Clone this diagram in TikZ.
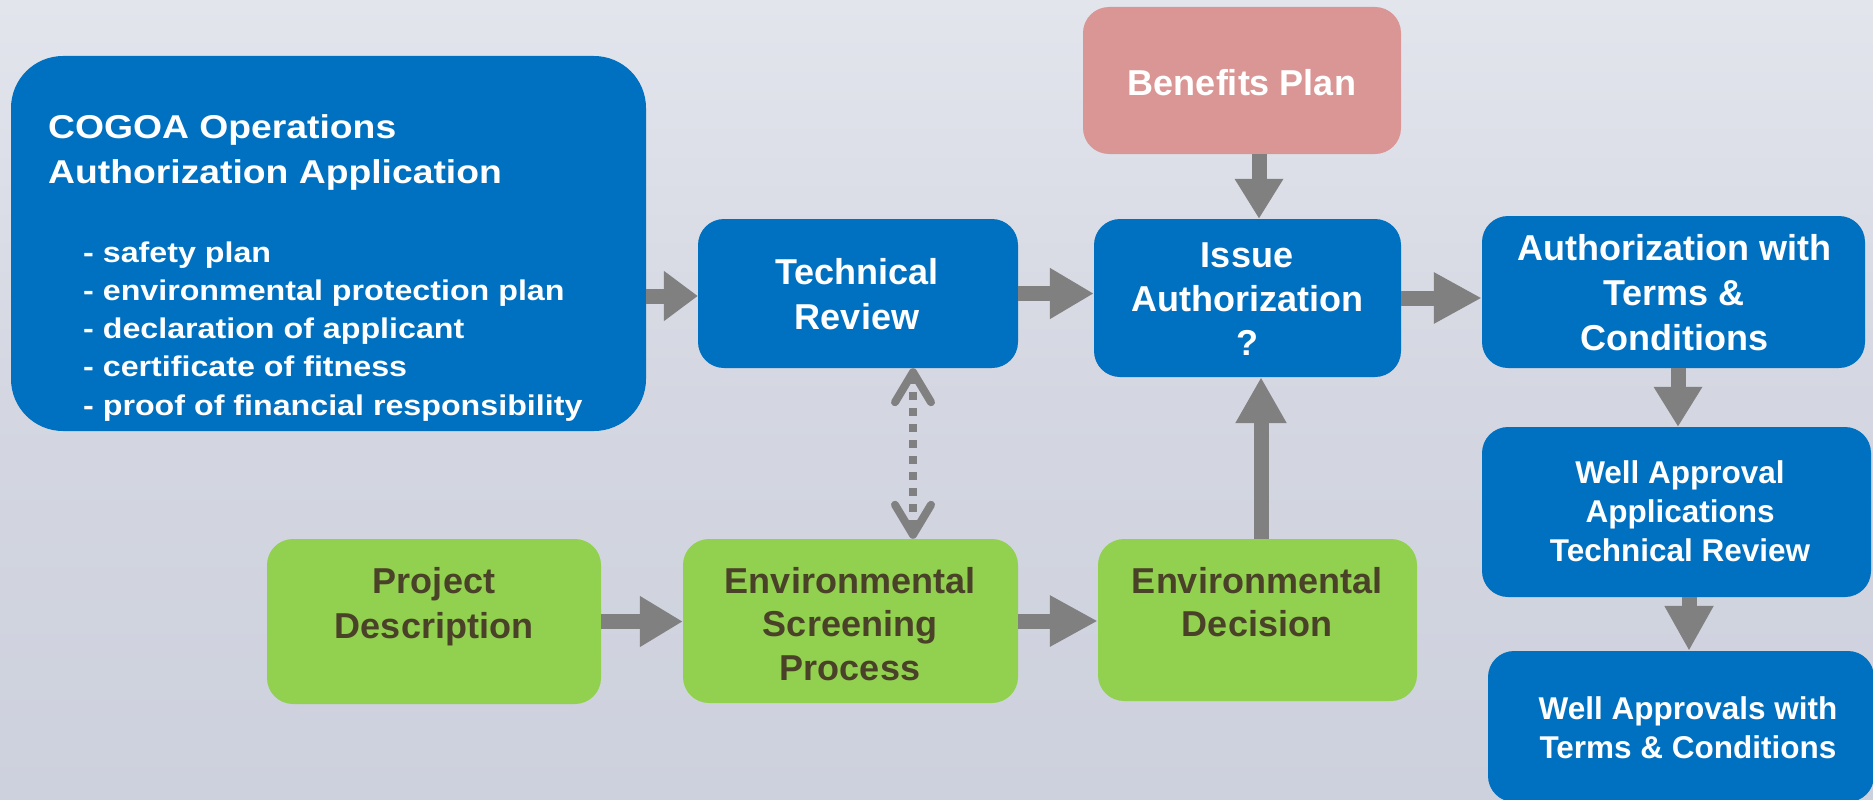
\documentclass[tikz,border=0pt]{standalone}
\usepackage{fontspec}
\setmainfont{Liberation Sans}
\newfontfamily\widefont{Liberation Sans}[FakeStretch=1.13]
\usetikzlibrary{arrows.meta}
\definecolor{boxblue}{HTML}{0070C0}
\definecolor{boxgreen}{HTML}{92D050}
\definecolor{boxpink}{HTML}{DA9694}
\definecolor{arrowgray}{HTML}{808080}
\definecolor{darktext}{HTML}{4A4129}
\definecolor{bgtop}{HTML}{E2E5EC}
\definecolor{bgmid}{HTML}{D4D7E1}
\definecolor{bgbot}{HTML}{CDD1DD}
\begin{document}
\begin{tikzpicture}[x=1pt,y=-1pt,
  box/.style={rectangle, rounded corners=26pt, inner sep=0pt, draw=none},
  bluebox/.style={box, fill=boxblue},
  greenbox/.style={box, fill=boxgreen},
  pinkbox/.style={box, fill=boxpink},
  bigtxt/.style={inner sep=0pt, anchor=base, font=\fontsize{36}{45}\selectfont\bfseries},
  smalltxt/.style={inner sep=0pt, anchor=base, font=\fontsize{31.5}{39}\selectfont\bfseries},
  titletxt/.style={inner sep=0pt, anchor=base west, text=white, font=\widefont\fontsize{33}{45}\selectfont\bfseries},
  listtxt/.style={inner sep=0pt, anchor=base west, text=white, font=\widefont\fontsize{28.5}{38.3}\selectfont\bfseries},
  whitetxt/.style={text=white},
  darktxt/.style={text=darktext},
  flow/.style={draw=arrowgray, line width=15pt, -{Triangle[length=44pt,width=48pt]}},
  dashlink/.style={draw=arrowgray, line width=8pt, dash pattern=on 8pt off 8pt,
     {Straight Barb[length=30pt,width=36pt,round]}-{Straight Barb[length=30pt,width=36pt,round]}}
]
% background
\shade[top color=bgtop, bottom color=bgbot, middle color=bgmid] (0,0) rectangle (1873,800);
\useasboundingbox (0,0) rectangle (1873,800);

% boxes
\node[bluebox, rounded corners=52pt, minimum width=635pt, minimum height=375pt] (cogoa) at (328.5,243.5) {};
\node[bluebox, minimum width=320pt, minimum height=149pt] (tech) at (858,293.5) {};
\node[bluebox, minimum width=307pt, minimum height=158pt] (issue) at (1247.5,298) {};
\node[pinkbox, minimum width=318pt, minimum height=147pt] (benefits) at (1242,80.5) {};
\node[bluebox, minimum width=383pt, minimum height=152pt] (auth) at (1673.5,292) {};
\node[bluebox, minimum width=389pt, minimum height=170pt] (waa) at (1676.5,512) {};
\node[bluebox, minimum width=386pt, minimum height=151pt] (watc) at (1681,726.5) {};
\node[greenbox, minimum width=334pt, minimum height=165pt] (pd) at (434,621.5) {};
\node[greenbox, minimum width=335pt, minimum height=164pt] (es) at (850.5,621) {};
\node[greenbox, minimum width=319pt, minimum height=162pt] (ed) at (1257.5,620) {};

% texts
\node[titletxt] (cogoatitle) at (48,138) {\begin{tabular}[t]{@{}l@{}}COGOA Operations\\Authorization Application\end{tabular}};
\node[listtxt] (cogoalist) at (83,262) {\begin{tabular}[t]{@{}l@{}}- safety plan\\- environmental protection plan\\- declaration of applicant\\- certificate of fitness\\- proof of financial responsibility\end{tabular}};
\node[bigtxt, whitetxt] (techtxt) at (857,284) {\begin{tabular}[t]{@{}c@{}}Technical\\Review\end{tabular}};
\node[bigtxt, whitetxt, font=\fontsize{36}{44}\selectfont\bfseries] (issuetxt) at (1247,267) {\begin{tabular}[t]{@{}c@{}}Issue\\Authorization\\?\end{tabular}};
\node[bigtxt, whitetxt] (benefitstxt) at (1242,95) {Benefits Plan};
\node[bigtxt, whitetxt] (authtxt) at (1674,260) {\begin{tabular}[t]{@{}c@{}}Authorization with\\Terms \&\\Conditions\end{tabular}};
\node[smalltxt, whitetxt] (waatxt) at (1680,483) {\begin{tabular}[t]{@{}c@{}}Well Approval\\Applications\\Technical Review\end{tabular}};
\node[smalltxt, whitetxt] (watctxt) at (1688,719) {\begin{tabular}[t]{@{}c@{}}Well Approvals with\\Terms \& Conditions\end{tabular}};
\node[bigtxt, darktxt] (pdtxt) at (434,593) {\begin{tabular}[t]{@{}c@{}}Project\\Description\end{tabular}};
\node[bigtxt, darktxt, font=\fontsize{36}{43.5}\selectfont\bfseries] (estxt) at (850,593) {\begin{tabular}[t]{@{}c@{}}Environmental\\Screening\\Process\end{tabular}};
\node[bigtxt, darktxt, font=\fontsize{36}{43}\selectfont\bfseries] (edtxt) at (1257,593) {\begin{tabular}[t]{@{}c@{}}Environmental\\Decision\end{tabular}};

% column coordinates for vertical connectors
\coordinate (bcol) at (1259,0);
\coordinate (ecol) at (1261,0);
\coordinate (acol) at (1678,0);
\coordinate (wcol) at (1689,0);
\coordinate (dcol) at (913,0);
\coordinate (crow) at (0,296);

% connectors
\draw[flow, -{Triangle[length=34pt,width=48pt]}] (cogoa.east |- crow) -- (tech.west |- crow);
\draw[flow] (tech.east) -- (tech.east -| issue.west);
\draw[flow, -{Triangle[length=48pt,width=48pt]}] (issue.east) -- (issue.east -| auth.west);
\draw[flow, -{Triangle[length=40pt,width=46pt]}] (benefits.south -| bcol) -- (issue.north -| bcol);
\draw[flow, -{Triangle[length=46pt,width=48pt]}] (ed.north -| ecol) -- (issue.south -| ecol);
\draw[flow, -{Triangle[length=40pt,width=46pt]}] (auth.south -| acol) -- (waa.north -| acol);
\draw[flow, -{Triangle[length=45pt,width=46pt]}] (waa.south -| wcol) -- (watc.north -| wcol);
\draw[flow, -{Triangle[length=43pt,width=48pt]}] (pd.east) -- (pd.east -| es.west);
\draw[flow, -{Triangle[length=48pt,width=48pt]}] (es.east) -- (es.east -| ed.west);
\draw[dashlink] (tech.south -| dcol) -- (es.north -| dcol);
\end{tikzpicture}
\end{document}
